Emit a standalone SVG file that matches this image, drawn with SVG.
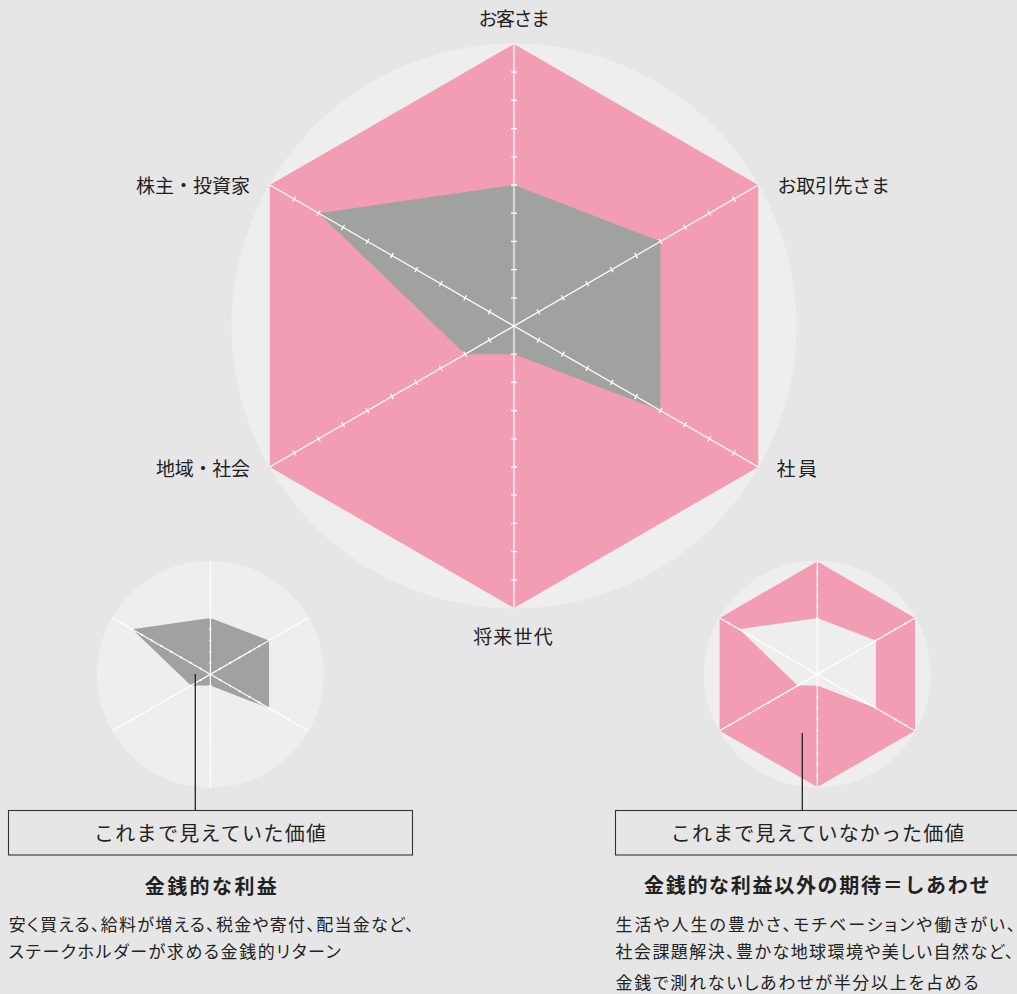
<svg xmlns="http://www.w3.org/2000/svg" xmlns:xlink="http://www.w3.org/1999/xlink" width="1017" height="994" viewBox="0 0 1017 994">
<style>
text{font-family:"Noto Sans CJK JP","Noto Sans",sans-serif;fill:#222;}
.lbl{font-size:19px;}
.box{font-size:20px;}
.ttl{font-size:20px;font-weight:bold;}
.body{font-size:17px;font-feature-settings:"palt";}
.bg{fill:#eeeeee;}
.pink{fill:#f29db4;}
.gray{fill:#a0a2a0;}
.ax{stroke:#ffffff;stroke-width:1.2;fill:none;}
.axv{stroke:#ffffff;stroke-opacity:0.55;stroke-width:2.2;fill:none;}
.tk{stroke:#ffffff;stroke-width:1.3;fill:none;}
.frame{fill:none;stroke:#333333;stroke-width:1.1;}
.conn{stroke:#222222;stroke-width:1.3;fill:none;}
</style>
<defs>
<path id="tk" class="tk" d="M-3,-28.2h6M-3,-56.4h6M-3,-84.6h6M-3,-112.8h6M-3,-141h6M-3,-169.2h6M-3,-197.4h6M-3,-225.6h6M-3,-253.8h6"/>
<g id="dt" fill="#ffffff">
<circle cx="0" cy="-11.28" r="1.1"/><circle cx="0" cy="-22.56" r="1.1"/><circle cx="0" cy="-33.84" r="1.1"/>
<circle cx="0" cy="-45.12" r="1.1"/><circle cx="0" cy="-56.4" r="1.1"/><circle cx="0" cy="-67.68" r="1.1"/>
<circle cx="0" cy="-78.96" r="1.1"/><circle cx="0" cy="-90.24" r="1.1"/><circle cx="0" cy="-101.52" r="1.1"/>
</g>
<g id="smallAxes">
<path class="ax" d="M0,-112.8V112.8M-97.69,-56.4L97.69,56.4M-97.69,56.4L97.69,-56.4"/>
<use xlink:href="#dt"/>
<use xlink:href="#dt" transform="rotate(60)"/>
<use xlink:href="#dt" transform="rotate(120)"/>
<use xlink:href="#dt" transform="rotate(180)"/>
<use xlink:href="#dt" transform="rotate(240)"/>
<use xlink:href="#dt" transform="rotate(300)"/>
</g>
</defs>
<rect width="1017" height="994" fill="#e6e6e6"/>

<g id="chart-main" transform="translate(514,326)">
<circle class="bg" cx="0" cy="0" r="282.5"/>
<polygon class="pink" points="0,-282 244.22,-141 244.22,141 0,282 -244.22,141 -244.22,-141"/>
<polygon class="gray" points="0,-141 146.53,-84.6 146.53,84.6 0,28.2 -48.84,28.2 -195.38,-112.8"/>
<path class="axv" d="M0,-282V282"/>
<path class="ax" d="M-244.22,-141L244.22,141M-244.22,141L244.22,-141"/>
<use xlink:href="#tk"/>
<use xlink:href="#tk" transform="rotate(60)"/>
<use xlink:href="#tk" transform="rotate(120)"/>
<use xlink:href="#tk" transform="rotate(180)"/>
<use xlink:href="#tk" transform="rotate(240)"/>
<use xlink:href="#tk" transform="rotate(300)"/>
</g>

<g id="labels-main">
<text class="lbl" x="478.5" y="25.5" textLength="71.5" lengthAdjust="spacing">お客さま</text>
<text class="lbl" x="136" y="193" textLength="114" lengthAdjust="spacing">株主・投資家</text>
<text class="lbl" x="777.5" y="193" textLength="112.5" lengthAdjust="spacing">お取引先さま</text>
<text class="lbl" x="156" y="475.5" textLength="94" lengthAdjust="spacing">地域・社会</text>
<text class="lbl" x="776.5" y="476" textLength="40.5" lengthAdjust="spacing">社員</text>
<text class="lbl" x="473.2" y="644" textLength="79.5" lengthAdjust="spacing">将来世代</text>
</g>

<g id="chart-left" transform="translate(210.4,674.3)">
<circle class="bg" cx="0" cy="0" r="113.5"/>
<polygon class="gray" points="0,-56.4 58.61,-33.84 58.61,33.84 0,11.28 -19.54,11.28 -78.15,-45.12"/>
<use xlink:href="#smallAxes"/>
</g>

<g id="chart-right" transform="translate(817.3,674.3)">
<circle class="bg" cx="0" cy="0" r="113.5"/>
<path class="pink" fill-rule="evenodd" d="M0,-112.8L97.69,-56.4L97.69,56.4L0,112.8L-97.69,56.4L-97.69,-56.4ZM0,-56.4L58.61,-33.84L58.61,33.84L0,11.28L-19.54,11.28L-78.15,-45.12Z"/>
<use xlink:href="#smallAxes"/>
</g>

<g id="connectors">
<path class="conn" d="M195.3,674V810.5"/>
<path class="conn" d="M802.3,733V810.5" stroke="#333333"/>
</g>

<g id="box-left">
<rect class="frame" x="8.5" y="810.5" width="404" height="44.5"/>
<text class="box" x="94" y="841" textLength="232" lengthAdjust="spacing">これまで見えていた価値</text>
</g>
<g id="box-right">
<rect class="frame" x="615.5" y="810.5" width="420" height="44.5"/>
<text class="box" x="670.8" y="841" textLength="293.5" lengthAdjust="spacing">これまで見えていなかった価値</text>
</g>

<g id="text-left">
<text class="ttl" x="144.8" y="893.5" textLength="132" lengthAdjust="spacing">金銭的な利益</text>
<text class="body" x="8.7" y="930.5" textLength="405" lengthAdjust="spacing">安く買える、給料が増える、税金や寄付、配当金など、</text>
<text class="body" x="8.7" y="958" textLength="332" lengthAdjust="spacing">ステークホルダーが求める金銭的リターン</text>
</g>
<g id="text-right">
<text class="ttl" x="644" y="893" textLength="345.5" lengthAdjust="spacing">金銭的な利益以外の期待＝しあわせ</text>
<text class="body" x="615.5" y="930.5" textLength="400" lengthAdjust="spacing">生活や人生の豊かさ、モチベーションや働きがい、</text>
<text class="body" x="615.5" y="957.5" textLength="398" lengthAdjust="spacing">社会課題解決、豊かな地球環境や美しい自然など、</text>
<text class="body" x="615.5" y="988.5" textLength="363" lengthAdjust="spacing">金銭で測れないしあわせが半分以上を占める</text>
</g>
</svg>
